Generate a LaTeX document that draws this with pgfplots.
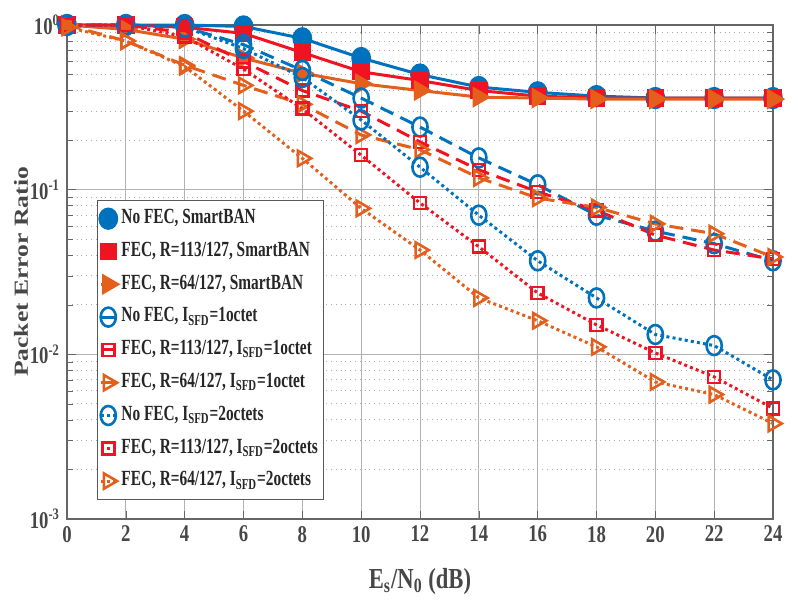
\documentclass[border=0pt]{standalone}
\usepackage{fontspec}
\setmainfont{Liberation Serif}
\newfontfamily\condfont[FakeStretch=0.78]{Liberation Serif}
\newfontfamily\legfont[FakeStretch=0.71]{Liberation Serif}
\newfontfamily\ylabfont[FakeStretch=1.28]{Liberation Serif}
\usepackage{pgfplots}
\pgfplotsset{compat=1.18}
\definecolor{mblue}{RGB}{0,114,189}
\definecolor{mred}{RGB}{240,20,35}
\definecolor{morange}{RGB}{228,95,28}
\definecolor{txt}{RGB}{38,38,38}
\begin{document}
\begin{tikzpicture}
\begin{axis}[
  at={(0,0)}, anchor=south west,
  scale only axis, width=353pt, height=247pt,
  xmin=0, xmax=24, ymin=1e-3, ymax=1, ymode=log,
  xtick={0,2,...,24},
  xticklabels={0,2,4,6,8,10,12,14,16,18,20,22,24},
  ytick={1e-3,1e-2,1e-1,1},
  yticklabels={10\textsuperscript{-3},10\textsuperscript{-2},10\textsuperscript{-1},10\textsuperscript{0}},
  tick label style={font=\condfont\bfseries\fontsize{12}{13}\selectfont, text=txt!85},
  grid=both,
  major grid style={draw=gray!60, line width=0.5pt},
  minor grid style={draw=gray!65, dotted, line width=0.45pt},
  axis line style={draw=gray!80!black, line width=0.6pt},
  tick style={draw=gray!80!black},
  tick align=inside,
  xlabel={\bfseries E\textsubscript{s}/N\textsubscript{0} (dB)},
  xlabel style={font=\condfont\fontsize{14.5}{16}\selectfont, text=txt!85, yshift=-6pt},
  ylabel={\bfseries Packet Error Ratio},
  ylabel style={font=\ylabfont\fontsize{10}{12}\selectfont, text=txt!85, yshift=-6pt},
  clip=false,
  legend cell align=left,
  legend style={at={(rel axis cs:0.0425,0.646)}, anchor=north west,
    font=\legfont\bfseries\fontsize{10.8}{12}\selectfont, text=txt,
    draw=gray!70!black, inner sep=1pt, row sep=0pt,
    nodes={text height=8.6pt, text depth=3.8pt}},
  legend image code/.code={
    \draw[mark repeat=2,mark phase=2] plot coordinates {(0cm,0cm) (0.13cm,0cm) (0.26cm,0cm)};},
]
% S1 No FEC SmartBAN
\addplot[color=mblue, line width=1.5pt, mark=*, mark size=4.2pt, mark options={solid, fill=mblue, yscale=1.15}] coordinates {
(0,1.0) (2,1.0) (4,1.0) (6,0.98) (8,0.83) (10,0.63) (12,0.50) (14,0.42) (16,0.39) (18,0.37) (20,0.36) (22,0.36) (24,0.36)};
\addlegendentry{No FEC, SmartBAN}
% S2 FEC 113 SmartBAN
\addplot[color=mred, line width=1.5pt, mark=square*, mark size=3.6pt, mark options={solid, fill=mred}] coordinates {
(0,1.0) (2,1.0) (4,0.97) (6,0.89) (8,0.68) (10,0.52) (12,0.46) (14,0.40) (16,0.37) (18,0.36) (20,0.36) (22,0.36) (24,0.36)};
\addlegendentry{FEC, R=113/127, SmartBAN}
% S3 FEC 64 SmartBAN
\addplot[color=morange, line width=1.5pt, mark=triangle*, mark size=4.6pt, mark options={solid, fill=morange, rotate=-90}] coordinates {
(0,1.0) (2,0.94) (4,0.82) (6,0.63) (8,0.51) (10,0.44) (12,0.40) (14,0.365) (16,0.36) (18,0.355) (20,0.355) (22,0.355) (24,0.355)};
\addlegendentry{FEC, R=64/127, SmartBAN}
% S4 No FEC 1 octet dashed
\addplot[color=mblue, line width=1.5pt, dash pattern=on 7pt off 4pt, mark=o, mark size=3.8pt, mark options={solid, line width=1.3pt, yscale=1.25}] coordinates {
(0,1.0) (2,1.0) (4,0.97) (6,0.76) (8,0.53) (10,0.36) (12,0.24) (14,0.156) (16,0.107) (18,0.070) (20,0.056) (22,0.047) (24,0.037)};
\addlegendentry{No FEC, I\textsubscript{SFD}=1octet}
% S5 FEC 113 1 octet dashed
\addplot[color=mred, line width=1.5pt, dash pattern=on 7pt off 4pt, mark=square, mark size=3.0pt, mark options={solid, line width=1.3pt}] coordinates {
(0,1.0) (2,1.0) (4,0.90) (6,0.60) (8,0.40) (10,0.30) (12,0.195) (14,0.132) (16,0.097) (18,0.075) (20,0.053) (22,0.043) (24,0.038)};
\addlegendentry{FEC, R=113/127, I\textsubscript{SFD}=1octet}
% S6 FEC 64 1 octet dashed
\addplot[color=morange, line width=1.5pt, dash pattern=on 7pt off 4pt, mark=triangle, mark size=4.4pt, mark options={solid, line width=1.3pt, rotate=-90}] coordinates {
(0,1.0) (2,0.80) (4,0.57) (6,0.43) (8,0.33) (10,0.215) (12,0.175) (14,0.118) (16,0.089) (18,0.078) (20,0.062) (22,0.054) (24,0.039)};
\addlegendentry{FEC, R=64/127, I\textsubscript{SFD}=1octet}
% S7 No FEC 2 octets dotted
\addplot[color=mblue, line width=1.5pt, dash pattern=on 1.5pt off 1.6pt, mark=o, mark size=3.8pt, mark options={solid, line width=1.3pt, yscale=1.25}] coordinates {
(0,1.0) (2,1.0) (4,0.97) (6,0.72) (8,0.48) (10,0.265) (12,0.137) (14,0.070) (16,0.037) (18,0.022) (20,0.0132) (22,0.0113) (24,0.0070)};
\addlegendentry{No FEC, I\textsubscript{SFD}=2octets}
% S8 FEC 113 2 octets dotted
\addplot[color=mred, line width=1.5pt, dash pattern=on 1.5pt off 1.6pt, mark=square, mark size=3.0pt, mark options={solid, line width=1.3pt}] coordinates {
(0,1.0) (2,1.0) (4,0.85) (6,0.54) (8,0.31) (10,0.162) (12,0.083) (14,0.045) (16,0.0236) (18,0.0151) (20,0.0102) (22,0.0073) (24,0.0047)};
\addlegendentry{FEC, R=113/127, I\textsubscript{SFD}=2octets}
% S9 FEC 64 2 octets dotted
\addplot[color=morange, line width=1.5pt, dash pattern=on 1.5pt off 1.6pt, mark=triangle, mark size=4.4pt, mark options={solid, line width=1.3pt, rotate=-90}] coordinates {
(0,0.97) (2,0.80) (4,0.56) (6,0.30) (8,0.155) (10,0.077) (12,0.043) (14,0.022) (16,0.016) (18,0.0111) (20,0.0068) (22,0.0057) (24,0.0038)};
\addlegendentry{FEC, R=64/127, I\textsubscript{SFD}=2octets}
\end{axis}
\pgfresetboundingbox
\path[use as bounding box] (-33.5pt,-46.5pt) rectangle (365.5pt,259.5pt);
\end{tikzpicture}
\end{document}
